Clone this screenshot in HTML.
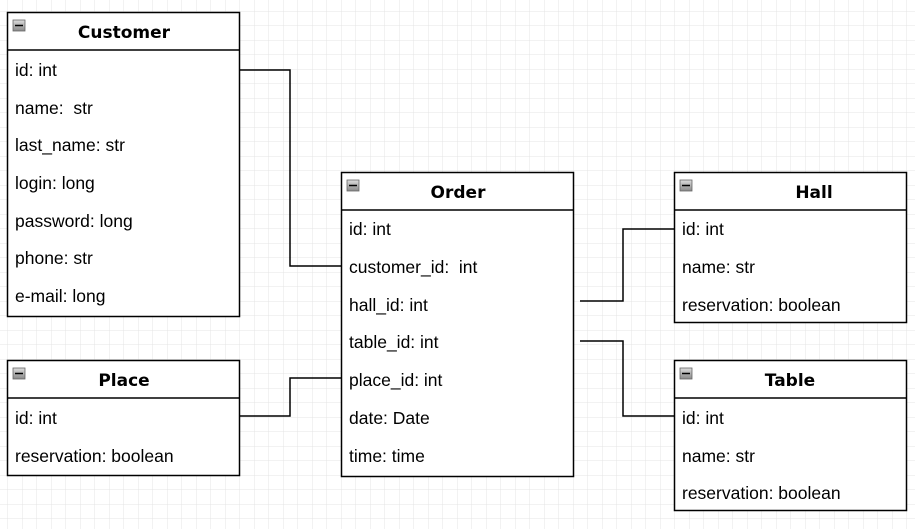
<!DOCTYPE html>
<html><head><meta charset="utf-8"><style>
html,body{margin:0;padding:0;background:#fff;}
svg{display:block;}
.t{font-family:"Liberation Sans",sans-serif;font-size:17.5px;fill:#000;white-space:pre;}
.h{font-family:"DejaVu Sans","Liberation Sans",sans-serif;font-size:17px;font-weight:bold;fill:#000;text-anchor:middle;}
.b{fill:#fff;stroke:#000;stroke-width:1.5;}
.c{fill:none;stroke:#000;stroke-width:1.5;}
</style></head><body>
<svg width="915" height="529" xmlns="http://www.w3.org/2000/svg">
<defs>
<pattern id="g" x="7.5" y="11" width="14.5" height="14.5" patternUnits="userSpaceOnUse">
<path d="M0 0H14.5M0 0V14.5" stroke="#e4e4e4" stroke-width="1" fill="none"/>
</pattern>
<linearGradient id="ic" x1="0" y1="0" x2="0" y2="1"><stop offset="0" stop-color="#ddd"/><stop offset="1" stop-color="#888"/></linearGradient>
</defs>
<rect width="915" height="529" fill="url(#g)"/>

<path class="c" d="M240 70H290V266H341"/>
<path class="c" d="M240 416H290V378H341"/>
<path class="c" d="M580 301H623V229H674"/>
<path class="c" d="M580 341H623V416H674"/>

<rect class="b" x="7.5" y="12.5" width="232" height="304"/>
<line class="c" x1="7.5" y1="50" x2="239.5" y2="50"/>
<rect x="13" y="20" width="12" height="11" fill="url(#ic)" stroke="#666" stroke-width="0.8"/><line x1="15" y1="25.5" x2="23" y2="25.5" stroke="#000" stroke-width="1.5"/>
<text class="h" x="124" y="38">Customer</text>
<text class="t" x="15" y="76">id: int</text>
<text class="t" x="15" y="114">name:  str</text>
<text class="t" x="15" y="151">last_name: str</text>
<text class="t" x="15" y="189">login: long</text>
<text class="t" x="15" y="227">password: long</text>
<text class="t" x="15" y="264">phone: str</text>
<text class="t" x="15" y="302">e-mail: long</text>

<rect class="b" x="7.5" y="360.5" width="232" height="115"/>
<line class="c" x1="7.5" y1="398" x2="239.5" y2="398"/>
<rect x="13" y="368" width="12" height="11" fill="url(#ic)" stroke="#666" stroke-width="0.8"/><line x1="15" y1="373.5" x2="23" y2="373.5" stroke="#000" stroke-width="1.5"/>
<text class="h" x="124" y="386">Place</text>
<text class="t" x="15" y="424">id: int</text>
<text class="t" x="15" y="462">reservation: boolean</text>

<rect class="b" x="341.5" y="172.5" width="232" height="304"/>
<line class="c" x1="341.5" y1="210" x2="573.5" y2="210"/>
<rect x="347" y="180" width="12" height="11" fill="url(#ic)" stroke="#666" stroke-width="0.8"/><line x1="349" y1="185.5" x2="357" y2="185.5" stroke="#000" stroke-width="1.5"/>
<text class="h" x="458" y="198">Order</text>
<text class="t" x="349" y="235">id: int</text>
<text class="t" x="349" y="273">customer_id:  int</text>
<text class="t" x="349" y="311">hall_id: int</text>
<text class="t" x="349" y="348">table_id: int</text>
<text class="t" x="349" y="386">place_id: int</text>
<text class="t" x="349" y="424">date: Date</text>
<text class="t" x="349" y="462">time: time</text>

<rect class="b" x="674.5" y="172.5" width="232" height="150"/>
<line class="c" x1="674.5" y1="210" x2="906.5" y2="210"/>
<rect x="680" y="180" width="12" height="11" fill="url(#ic)" stroke="#666" stroke-width="0.8"/><line x1="682" y1="185.5" x2="690" y2="185.5" stroke="#000" stroke-width="1.5"/>
<text class="h" x="814" y="198">Hall</text>
<text class="t" x="682" y="235">id: int</text>
<text class="t" x="682" y="273">name: str</text>
<text class="t" x="682" y="311">reservation: boolean</text>

<rect class="b" x="674.5" y="360.5" width="232" height="150"/>
<line class="c" x1="674.5" y1="398" x2="906.5" y2="398"/>
<rect x="680" y="368" width="12" height="11" fill="url(#ic)" stroke="#666" stroke-width="0.8"/><line x1="682" y1="373.5" x2="690" y2="373.5" stroke="#000" stroke-width="1.5"/>
<text class="h" x="790" y="386">Table</text>
<text class="t" x="682" y="424">id: int</text>
<text class="t" x="682" y="462">name: str</text>
<text class="t" x="682" y="499">reservation: boolean</text>
</svg>
</body></html>
